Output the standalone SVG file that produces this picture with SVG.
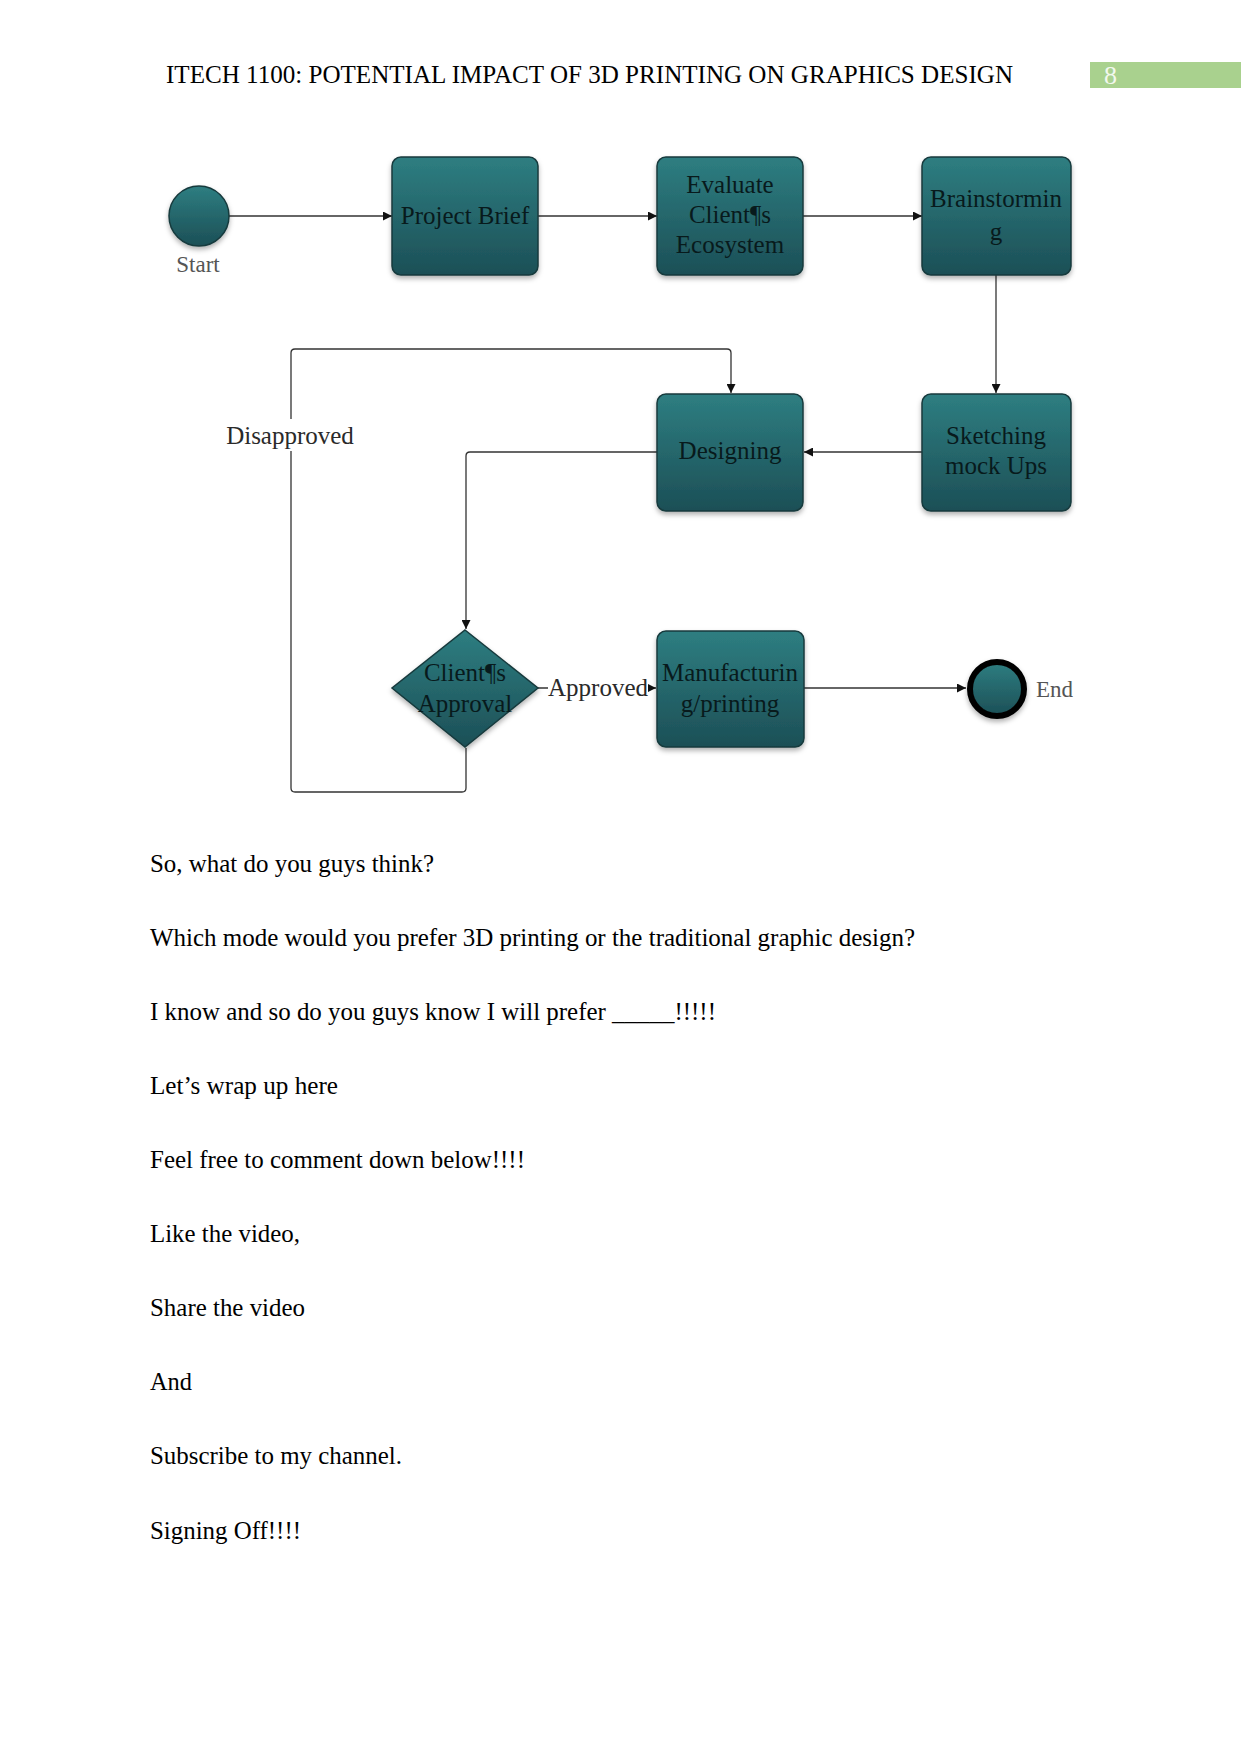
<svg xmlns="http://www.w3.org/2000/svg" width="1241" height="1754" viewBox="0 0 1241 1754">
<defs>
<linearGradient id="teal" x1="0" y1="0" x2="0" y2="1">
<stop offset="0" stop-color="#2e7e81"/>
<stop offset="1" stop-color="#1c4f56"/>
</linearGradient>
<filter id="sh" x="-20%" y="-20%" width="140%" height="150%">
<feDropShadow dx="0" dy="3" stdDeviation="2.5" flood-color="#000" flood-opacity="0.3"/>
</filter>
<marker id="arr" viewBox="0 0 10 10" refX="10" refY="5" markerWidth="9" markerHeight="9" markerUnits="userSpaceOnUse" orient="auto">
<path d="M0,0 L10,5 L0,10 z" fill="#111"/>
</marker>
<style>
.box{fill:url(#teal);stroke:#173a3d;stroke-width:1.5;filter:url(#sh)}
.nt{font-family:"Liberation Serif",serif;font-size:25px;fill:#081a1c;text-anchor:middle}
.lbl{font-family:"Liberation Serif",serif;font-size:25px;fill:#2a2a2a;text-anchor:middle}
.glbl{font-family:"Liberation Serif",serif;font-size:23px;fill:#555}
.con{fill:none;stroke:#333;stroke-width:1.3}
.body{font-family:"Liberation Serif",serif;font-size:26px;fill:#000}
</style>
</defs>
<rect width="1241" height="1754" fill="#fff"/>

<g id="header">
<text x="166" y="83" font-family="Liberation Serif, serif" font-size="26" textLength="847" lengthAdjust="spacingAndGlyphs">ITECH 1100: POTENTIAL IMPACT OF 3D PRINTING ON GRAPHICS DESIGN</text>
<rect x="1090" y="62" width="151" height="26" fill="#a9d18e"/>
<text x="1104" y="84" font-family="Liberation Serif, serif" font-size="25" fill="#f2f8ee" textLength="13" lengthAdjust="spacingAndGlyphs">8</text>
</g>

<g id="connectors">
<line class="con" x1="229" y1="216" x2="392" y2="216" marker-end="url(#arr)"/>
<line class="con" x1="538" y1="216" x2="657" y2="216" marker-end="url(#arr)"/>
<line class="con" x1="803" y1="216" x2="922" y2="216" marker-end="url(#arr)"/>
<line class="con" x1="996" y1="275" x2="996" y2="393" marker-end="url(#arr)"/>
<line class="con" x1="922" y1="452" x2="804" y2="452" marker-end="url(#arr)"/>
<path class="con" d="M657,452 H470 Q466,452 466,456 V629" marker-end="url(#arr)"/>
<path class="con" d="M466,748 V788 Q466,792 462,792 H295 Q291,792 291,788 V353 Q291,349 295,349 H727 Q731,349 731,353 V393" marker-end="url(#arr)"/>
<line class="con" x1="538" y1="688" x2="656" y2="688" marker-end="url(#arr)"/>
<line class="con" x1="804" y1="688" x2="966" y2="688" marker-end="url(#arr)"/>
<rect x="224" y="419" width="134" height="32" fill="#fff"/>
<text class="lbl" x="290" y="444">Disapproved</text>
<rect x="548" y="672" width="100" height="32" fill="#fff"/>
<text class="lbl" x="598" y="696">Approved</text>
</g>

<g id="start">
<circle cx="199" cy="216" r="30" fill="url(#teal)" stroke="#173a3d" stroke-width="1.5" filter="url(#sh)"/>
<text class="glbl" x="198" y="272" text-anchor="middle">Start</text>
</g>

<g id="project-brief">
<rect class="box" x="392" y="157" width="146" height="118" rx="9"/>
<text class="nt" x="465" y="224">Project Brief</text>
</g>

<g id="evaluate">
<rect class="box" x="657" y="157" width="146" height="118" rx="9"/>
<text class="nt" x="730" y="193">Evaluate</text>
<text class="nt" x="730" y="223">Client¶s</text>
<text class="nt" x="730" y="253">Ecosystem</text>
</g>

<g id="brainstorming">
<rect class="box" x="922" y="157" width="149" height="118" rx="9"/>
<text class="nt" x="996" y="207">Brainstormin</text>
<text class="nt" x="996" y="240">g</text>
</g>

<g id="designing">
<rect class="box" x="657" y="394" width="146" height="117" rx="9"/>
<text class="nt" x="730" y="459">Designing</text>
</g>

<g id="sketching">
<rect class="box" x="922" y="394" width="149" height="117" rx="9"/>
<text class="nt" x="996" y="444">Sketching</text>
<text class="nt" x="996" y="474">mock Ups</text>
</g>

<g id="approval">
<polygon class="box" points="465,630 538,688 465,747 392,688"/>
<text class="nt" x="465" y="681">Client¶s</text>
<text class="nt" x="465" y="712">Approval</text>
</g>

<g id="manufacturing">
<rect class="box" x="657" y="631" width="147" height="116" rx="9"/>
<text class="nt" x="730" y="681">Manufacturin</text>
<text class="nt" x="730" y="712">g/printing</text>
</g>

<g id="end">
<circle cx="997" cy="689" r="27" fill="url(#teal)" stroke="#050505" stroke-width="6" filter="url(#sh)"/>
<text class="glbl" x="1036" y="697">End</text>
</g>

<g id="body-text">
<text class="body" x="150" y="872" textLength="284" lengthAdjust="spacingAndGlyphs">So, what do you guys think?</text>
<text class="body" x="150" y="946" textLength="765" lengthAdjust="spacingAndGlyphs">Which mode would you prefer 3D printing or the traditional graphic design?</text>
<text class="body" x="150" y="1020" textLength="566" lengthAdjust="spacingAndGlyphs">I know and so do you guys know I will prefer _____!!!!!</text>
<text class="body" x="150" y="1094" textLength="188" lengthAdjust="spacingAndGlyphs">Let’s wrap up here</text>
<text class="body" x="150" y="1168" textLength="375" lengthAdjust="spacingAndGlyphs">Feel free to comment down below!!!!</text>
<text class="body" x="150" y="1242" textLength="150" lengthAdjust="spacingAndGlyphs">Like the video,</text>
<text class="body" x="150" y="1316" textLength="155" lengthAdjust="spacingAndGlyphs">Share the video</text>
<text class="body" x="150" y="1390" textLength="42" lengthAdjust="spacingAndGlyphs">And</text>
<text class="body" x="150" y="1464" textLength="252" lengthAdjust="spacingAndGlyphs">Subscribe to my channel.</text>
<text class="body" x="150" y="1539" textLength="151" lengthAdjust="spacingAndGlyphs">Signing Off!!!!</text>
</g>
</svg>
